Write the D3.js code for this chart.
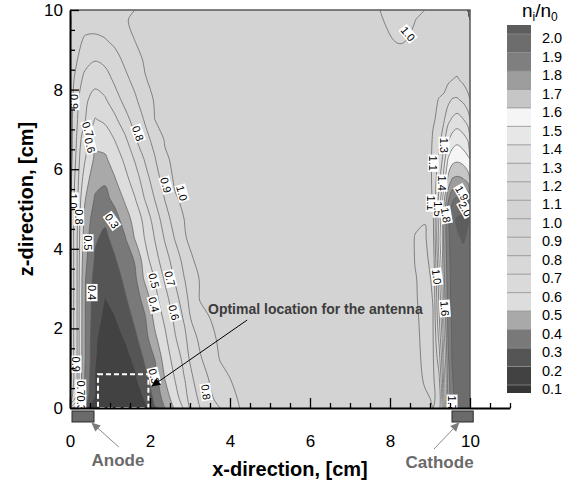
<!DOCTYPE html>
<html><head><meta charset="utf-8">
<script src="https://cdn.jsdelivr.net/npm/d3@7"></script>
<style>
html,body{margin:0;padding:0;background:#fff;}
svg{display:block;font-family:"Liberation Sans",Arial,Helvetica,sans-serif;}
</style></head>
<body>
<svg id="chart" width="565" height="481"></svg>
<script>
// ---- grid coordinates (cm) ----
const xGrid = [0,0.1,0.25,0.5,0.75,1.0,1.25,1.5,1.75,2.0,2.25,2.5,2.75,3.0,3.5,4.0,4.5,5.0,6.0,7.0,7.5,8.0,8.5,8.75,9.0,9.15,9.3,9.4,9.5,9.6,9.75,9.9,10];
const zGrid = [0,0.5,1,1.5,2,2.5,3,3.5,4,4.5,5,5.5,6,6.5,7,7.5,8,8.5,9,9.5,10];

// ---- ion density ratio n_i/n_0, one row per z level (bottom to top) ----
const row0_0 = [0.55,0.31,0.24,0.21,0.15,0.135,0.13,0.135,0.15,0.175,0.26,0.37,0.52,0.62,0.8,0.9,1.002,1.03, 1.04,1.04,1.04, 1.04,1.04,1.04,1.035,1.01,1.05,1.35,1.68,1.85,1.92,1.94,1.94];
const row0_5 = [0.98,0.8,0.66,0.36,0.18,0.145,0.135,0.14,0.165,0.205,0.33,0.44,0.56,0.66,0.82,0.94,1.01,1.03, 1.04,1.04,1.04, 1.04,1.04,1.035,1.01,0.99,1.02,1.4,1.72,1.87,1.93,1.95,1.95];
const row1_0 = [1.02,0.88,0.705,0.39,0.195,0.15,0.14,0.15,0.185,0.27,0.36,0.505,0.605,0.705,0.85,0.97,1.03,1.035, 1.04,1.04,1.04, 1.04,1.04,1.03,0.99,0.985,1.08,1.45,1.75,1.89,1.94,1.955,1.955];
const row1_5 = [1.03,0.87,0.705,0.405,0.205,0.155,0.15,0.17,0.22,0.32,0.405,0.55,0.64,0.74,0.89,1.005,1.03,1.04, 1.04,1.04,1.04, 1.04,1.04,1.02,0.985,0.99,1.15,1.505,1.78,1.905,1.945,1.96,1.96];
const row2_0 = [1.03,0.87,0.705,0.405,0.21,0.165,0.17,0.205,0.28,0.36,0.48,0.58,0.69,0.78,0.92,1.02,1.035,1.04, 1.04,1.04,1.04, 1.04,1.04,1.015,0.983,0.995,1.22,1.57,1.805,1.91,1.95,1.96,1.96];
const row2_5 = [1.03,0.87,0.705,0.405,0.23,0.18,0.195,0.25,0.32,0.39,0.53,0.62,0.725,0.82,0.97,1.03,1.035,1.04, 1.04,1.04,1.04, 1.04,1.04,1.01,0.983,0.998,1.28,1.63,1.82,1.92,1.955,1.965,1.96];
const row3_0 = [1.03,0.87,0.705,0.405,0.24,0.198,0.23,0.29,0.35,0.44,0.57,0.665,0.765,0.86,1.005,1.03,1.035,1.04, 1.04,1.04,1.04, 1.04,1.04,1.005,0.984,1.002,1.32,1.66,1.84,1.93,1.96,1.97,1.965];
const row3_5 = [1.03,0.87,0.705,0.41,0.26,0.225,0.26,0.32,0.38,0.52,0.605,0.715,0.81,0.905,1.005,1.03,1.035,1.04, 1.04,1.04,1.04, 1.04,1.04,1.003,0.985,1.01,1.36,1.68,1.85,1.935,1.965,1.975,1.97];
const row4_0 = [1.03,0.87,0.705,0.43,0.29,0.25,0.295,0.35,0.41,0.56,0.665,0.76,0.85,0.94,1.03,1.035,1.04,1.04, 1.04,1.04,1.04, 1.04,1.04,0.998,0.987,1.03,1.405,1.705,1.86,1.94,1.975,1.985,1.98];
const row4_5 = [1.03,0.86,0.71,0.45,0.31,0.28,0.33,0.39,0.505,0.605,0.705,0.81,0.905,0.995,1.025,1.035,1.04,1.04, 1.04,1.04,1.04, 1.04,1.04,0.997,0.992,1.06,1.45,1.73,1.87,1.95,1.99,2.005,1.99];
const row5_0 = [1.03,0.86,0.72,0.47,0.345,0.315,0.36,0.45,0.54,0.63,0.75,0.85,0.95,1.005,1.025,1.035,1.04,1.04, 1.04,1.04,1.04, 1.04,1.04,1.01,1.003,1.08,1.405,1.705,1.88,1.96,2.01,2.02,2.005];
const row5_5 = [1.03,0.87,0.73,0.505,0.39,0.37,0.43,0.515,0.595,0.705,0.805,0.905,0.99,1.02,1.03,1.035,1.04,1.04, 1.04,1.04,1.04, 1.04,1.04,1.04,1.04,1.11,1.33,1.58,1.78,1.88,1.92,1.92,1.905];
const row6_0 = [1.03,0.88,0.75,0.55,0.43,0.415,0.495,0.57,0.65,0.755,0.855,0.945,1.015,1.025,1.035,1.04,1.04,1.04, 1.04,1.04,1.04, 1.04,1.04,1.04,1.04,1.12,1.27,1.45,1.62,1.705,1.72,1.705,1.65];
const row6_5 = [1.03,0.905,0.77,0.605,0.48,0.485,0.545,0.62,0.71,0.81,0.895,0.985,1.02,1.03,1.035,1.04,1.04,1.04, 1.04,1.04,1.04, 1.04,1.04,1.04,1.04,1.12,1.22,1.36,1.505,1.56,1.58,1.56,1.52];
const row7_0 = [1.03,0.91,0.79,0.64,0.535,0.54,0.605,0.68,0.79,0.87,0.93,1.01,1.025,1.03,1.035,1.04,1.04,1.04, 1.04,1.04,1.04, 1.04,1.04,1.04,1.04,1.11,1.17,1.27,1.38,1.44,1.47,1.44,1.39];
const row7_5 = [1.03,0.91,0.81,0.705,0.595,0.62,0.68,0.765,0.84,0.91,1.002,1.015,1.025,1.03,1.035,1.04,1.04,1.04, 1.04,1.04,1.04, 1.04,1.04,1.04,1.04,1.09,1.12,1.19,1.27,1.31,1.34,1.305,1.25];
const row8_0 = [1.03,0.92,0.83,0.72,0.66,0.69,0.76,0.83,0.885,0.955,1.01,1.025,1.03,1.035,1.04,1.04,1.04,1.04, 1.04,1.04,1.04, 1.04,1.04,1.04,1.04,1.07,1.105,1.12,1.17,1.205,1.21,1.18,1.13];
const row8_5 = [1.03,0.94,0.86,0.775,0.735,0.755,0.82,0.875,0.93,0.995,1.02,1.03,1.035,1.04,1.04,1.04,1.04,1.04, 1.04,1.04,1.04, 1.04,1.04,1.04,1.04,1.045,1.05,1.06,1.08,1.098,1.11,1.08,1.04];
const row9_0 = [1.03,0.96,0.905,0.83,0.805,0.825,0.865,0.92,0.97,1.01,1.025,1.035,1.04,1.04,1.04,1.04,1.04,1.04, 1.04,1.04,1.04, 1.04,1.04,1.04,1.04,1.04,1.04,1.04,1.045,1.05,1.05,1.045,1.04];
const row9_5 = [1.03,0.98,0.93,0.89,0.885,0.895,0.925,0.96,1.002,1.02,1.03,1.04,1.04,1.04,1.04,1.04,1.04,1.04, 1.04,1.04,1.04, 1.02,0.99,1.02,1.04,1.04,1.04,1.04,1.04,1.04,1.04,1.04,1.04];
const row10_0 = [1.03,0.99,0.96,0.935,0.935,0.95,0.97,0.995,1.01,1.02,1.03,1.04,1.04,1.04,1.04,1.04,1.04,1.04, 1.04,1.04,1.04, 1.005,0.975,0.998,1.04,1.04,1.04,1.04,1.04,1.04,1.04,1.04,1.04];
const density = [row0_0,row0_5,row1_0,row1_5,row2_0,row2_5,row3_0,row3_5,row4_0,row4_5,row5_0,row5_5,row6_0,row6_5,row7_0,row7_5,row8_0,row8_5,row9_0,row9_5,row10_0];

// ---- contour levels and band shades (band 0 = below 0.1, last = above 2.0) ----
const levels = [0.1,0.2,0.3,0.4,0.5,0.6,0.7,0.8,0.9,1.0,1.1,1.2,1.3,1.4,1.5,1.6,1.7,1.8,1.9,2.0];
const bandColors = ["#363636","#424242","#555555","#797979","#a9a9a9","#dddddd","#dadada","#d8d8d8","#d6d6d6","#d5d5d5","#d3d3d3",
                    "#d6d6d6","#dadada","#dfdfdf","#e7e7e7","#f5f5f5","#c6c6c6","#9d9d9d","#7f7f7f","#6d6d6d","#5d5d5d"];

// ---- in-line contour labels: text, position (cm), angle (deg) ----
const labelText  = ["0.9","0.7","0.6","1.0","0.8","0.5","0.4","0.9","0.7","0.3","0.8","0.9","1.0","0.3","0.7","0.5","0.4","0.6","0.3","0.8","1.0","1.3","1.1","1.4","1.1","1.5","1.8","1.9","2.0","1.0","1.6","1.7"];
const labelX     = [0.1,0.45,0.5,0.08,0.22,0.45,0.55,0.15,0.27,0.27,1.7,2.4,2.8,1.05,2.5,2.1,2.1,2.6,2.1,3.4,8.45,9.35,9.08,9.3,9.03,9.2,9.4,9.8,9.88,9.17,9.37,9.55];
const labelZ     = [7.7,7.0,6.6,5.2,4.8,4.15,2.9,1.1,0.5,0.12,6.9,5.6,5.4,4.7,3.25,3.2,2.6,2.4,0.8,0.4,9.4,6.6,6.15,5.65,5.15,5.0,4.85,5.4,5.0,3.3,2.5,0.12];
const labelAngle = [90,72,76,90,90,90,90,90,90,90,70,74,74,55,76,76,76,76,76,82,50,90,90,90,90,90,80,60,60,82,86,90];

const xTicks = [0,2,4,6,8,10];
const zTicks = [0,2,4,6,8,10];

// ---- layout ----
const svg = d3.select("#chart");
const x = d3.scaleLinear().domain([0,10]).range([70,470]);
const y = d3.scaleLinear().domain([0,10]).range([408,10]);

const nx = xGrid.length, nz = zGrid.length;
density.forEach((r,i)=>{ if (r.length!==nx) throw new Error("row "+i+" has "+r.length+" values"); });
const flat = density.flat();

// grid-index -> data coordinate (piecewise linear over the non-uniform grid)
const ix = d3.scaleLinear().domain(d3.range(nx)).range(xGrid).clamp(true);
const iz = d3.scaleLinear().domain(d3.range(nz)).range(zGrid).clamp(true);

// where d3.contours places sample k (k or k+0.5 depending on version)
let off = 0.5;
d3.contours().size([2,1]).thresholds([0.5])([0,1]).forEach(c =>
  c.coordinates.forEach(poly => poly.forEach(ring => ring.forEach(p => {
    if (p[0] > 0 && p[0] < 2) off = p[0] - 0.5;
  }))));

const toPx = p => [x(ix(p[0]-off)), y(iz(p[1]-off))];
function dedupe(pts){
  const out=[];
  pts.forEach(p=>{ const q=out[out.length-1]; if(!q || Math.abs(q[0]-p[0])>0.01 || Math.abs(q[1]-p[1])>0.01) out.push(p); });
  return out;
}
function edgeFlags(p){
  const i=p[0]-off, j=p[1]-off, e=1e-6;
  return [i<=e, i>=nx-1-e, j<=e, j>=nz-1-e];
}
function onBorder(a,b){
  const fa=edgeFlags(a), fb=edgeFlags(b);
  return fa.some((f,k)=>f && fb[k]);
}
// split a ring into the parts that run through the interior
function splitRing(ring){
  const runs=[]; let cur=null;
  for(let i=0;i<ring.length-1;i++){
    if(onBorder(ring[i],ring[i+1])){ if(cur){runs.push(cur);cur=null;} }
    else { if(!cur) cur=[ring[i]]; cur.push(ring[i+1]); }
  }
  if(cur) runs.push(cur);
  if(runs.length===1 && runs[0].length===ring.length) return [{pts:ring.slice(0,-1),closed:true}];
  if(runs.length>1 && !onBorder(ring[0],ring[1]) && !onBorder(ring[ring.length-2],ring[ring.length-1])){
    const last=runs.pop(); runs[0]=last.concat(runs[0].slice(1));
  }
  return runs.map(r=>({pts:r,closed:false}));
}

const lineClosed = d3.line().curve(d3.curveCatmullRomClosed.alpha(0.5));
const lineOpen = d3.line().curve(d3.curveCatmullRom.alpha(0.5));

const defs = svg.append("defs");
defs.append("clipPath").attr("id","plotClip").append("rect")
  .attr("x",x(0)).attr("y",y(10)).attr("width",x(10)-x(0)).attr("height",y(0)-y(10));
function marker(id,color){
  defs.append("marker").attr("id",id).attr("viewBox","0 0 10 10").attr("refX",9).attr("refY",5)
    .attr("markerUnits","userSpaceOnUse").attr("markerWidth",11).attr("markerHeight",9).attr("orient","auto")
    .append("path").attr("d","M0,0.5L10,5L0,9.5Z").attr("fill",color);
}
marker("arrBlack","#000");
marker("arrGray","#7a7a7a");

const plot = svg.append("g").attr("clip-path","url(#plotClip)");
plot.append("rect").attr("x",x(0)).attr("y",y(10)).attr("width",x(10)-x(0)).attr("height",y(0)-y(10)).attr("fill",bandColors[0]);

const cs = d3.contours().size([nx,nz]).thresholds(levels)(flat);
const fillG = plot.append("g");
cs.forEach((c,k)=>{
  let d="";
  c.coordinates.forEach(poly=>poly.forEach(ring=>{
    const pts=dedupe(ring.slice(0,-1).map(toPx));
    if(pts.length>2) d+=lineClosed(pts);
  }));
  if(d) fillG.append("path").attr("d",d).attr("fill",bandColors[k+1]).attr("fill-rule","evenodd");
});

const lineG = plot.append("g").attr("fill","none").attr("stroke","#5a5a5a").attr("stroke-width",0.7);
cs.forEach(c=>{
  c.coordinates.forEach(poly=>poly.forEach(ring=>{
    splitRing(ring).forEach(run=>{
      const pts=dedupe(run.pts.map(toPx));
      if(pts.length<2) return;
      lineG.append("path").attr("d", run.closed ? lineClosed(pts) : lineOpen(pts));
    });
  }));
});

// contour value labels
const labG = plot.append("g").attr("font-size",11).attr("fill","#000");
labelText.forEach((t,i)=>{
  const g=labG.append("g").attr("transform",`translate(${x(labelX[i])},${y(labelZ[i])}) rotate(${labelAngle[i]})`);
  const tx=g.append("text").attr("text-anchor","middle").attr("dy","0.36em").text(t);
  const bb=tx.node().getBBox();
  g.insert("rect","text").attr("x",bb.x-1).attr("y",bb.y+0.5).attr("width",bb.width+2).attr("height",bb.height-1).attr("fill","#fff");
});

// antenna region and annotation
svg.append("rect").attr("x",x(0.7)).attr("y",y(0.85)).attr("width",x(1.96)-x(0.7)).attr("height",y(0)-y(0.85))
  .attr("fill","none").attr("stroke","#fff").attr("stroke-width",2).attr("stroke-dasharray","5,3");
svg.append("line").attr("x1",x(4.43)).attr("y1",y(2.21)).attr("x2",x(2.05)).attr("y2",y(0.55))
  .attr("stroke","#000").attr("stroke-width",1).attr("marker-end","url(#arrBlack)");
svg.append("text").attr("x",x(3.45)).attr("y",y(2.35)).attr("font-size",14).attr("font-weight","bold")
  .attr("fill","#3c3c3c").text("Optimal location for the antenna");

// frame (top / right)
svg.append("path").attr("d",`M${x(0)},${y(10)}H${x(10)}V${y(0)}`).attr("fill","none").attr("stroke","#5a5a5a").attr("stroke-width",1.5);

// electrodes below the x axis
const elecTop = y(0)+3, elecH = 11;
[[0.05,0.6],[9.55,10.08]].forEach(e=>{
  svg.append("rect").attr("x",x(e[0])).attr("y",elecTop).attr("width",x(e[1])-x(e[0])).attr("height",elecH)
    .attr("fill","#6a6a6a").attr("stroke","#2a2a2a").attr("stroke-width",1);
});

// axes
const xAxisScale = d3.scaleLinear().domain([0,11]).range([x(0),x(11)]);
const gx = svg.append("g").attr("transform",`translate(0,${y(0)})`);
gx.call(d3.axisBottom(xAxisScale).tickValues(xTicks).tickSize(-10).tickSizeOuter(0).tickPadding(27).tickFormat(d3.format("d")));
const gxm = svg.append("g").attr("transform",`translate(0,${y(0)})`);
gxm.call(d3.axisBottom(xAxisScale).tickValues(d3.range(0,11.01,0.5).filter(v=>v%2!==0)).tickSize(-5).tickFormat(""));
gxm.select(".domain").remove();

const gy = svg.append("g").attr("transform",`translate(${x(0)},0)`);
gy.call(d3.axisLeft(y).tickValues(zTicks).tickSize(-9).tickSizeOuter(0).tickPadding(7).tickFormat(d3.format("d")));
const gym = svg.append("g").attr("transform",`translate(${x(0)},0)`);
gym.call(d3.axisLeft(y).tickValues(d3.range(0,10.01,0.5).filter(v=>v%2!==0)).tickSize(-5).tickFormat(""));
gym.select(".domain").remove();

[gx,gy].forEach(g=>{
  g.select(".domain").attr("stroke","#000").attr("stroke-width",2);
  g.selectAll("text").attr("font-size",17).attr("font-family","Liberation Sans, Arial, sans-serif").attr("fill","#000");
});
[gx,gy,gxm,gym].forEach(g=>g.selectAll(".tick line").attr("stroke","#000").attr("stroke-width",1.3));

// axis titles
svg.append("text").attr("x",290).attr("y",476).attr("text-anchor","middle").attr("font-size",20).attr("font-weight","bold").text("x-direction, [cm]");
svg.append("text").attr("transform","translate(33,199) rotate(-90)").attr("text-anchor","middle").attr("font-size",20).attr("font-weight","bold").text("z-direction, [cm]");

// electrode callouts
svg.append("text").attr("x",x(1.2)).attr("y",466).attr("text-anchor","middle").attr("font-size",17).attr("font-weight","bold").attr("fill","#6a6a6a").text("Anode");
svg.append("text").attr("x",x(9.24)).attr("y",468).attr("text-anchor","middle").attr("font-size",17).attr("font-weight","bold").attr("fill","#6a6a6a").text("Cathode");
svg.append("line").attr("x1",x(1.22)).attr("y1",447).attr("x2",x(0.55)).attr("y2",elecTop+elecH+1)
  .attr("stroke","#8a8a8a").attr("stroke-width",1).attr("marker-end","url(#arrGray)");
svg.append("line").attr("x1",x(9.1)).attr("y1",449).attr("x2",x(9.72)).attr("y2",elecTop+elecH+1)
  .attr("stroke","#8a8a8a").attr("stroke-width",1).attr("marker-end","url(#arrGray)");

// ---- legend ----
const L = d3.scaleLinear().domain([2.0,0.1]).range([34,385]);
const lg = svg.append("g");
const swX = 507, swW = 24;
bandColors.forEach((col,b)=>{
  const top = b===bandColors.length-1 ? L(2.0)-9 : L(levels[b]);
  const bot = b===0 ? L(0.1)+8 : L(levels[b-1]);
  lg.append("rect").attr("x",swX).attr("y",top).attr("width",swW).attr("height",bot-top).attr("fill",col);
});
levels.forEach(v=>{
  lg.append("line").attr("x1",swX).attr("x2",swX+swW).attr("y1",L(v)).attr("y2",L(v)).attr("stroke","#8c8c8c").attr("stroke-width",0.8);
  lg.append("text").attr("x",542).attr("y",L(v)+4).attr("dy","0.36em").attr("font-size",14.5).text(d3.format(".1f")(v));
});
const lt = lg.append("text").attr("x",522).attr("y",17).attr("font-size",19);
lt.append("tspan").text("n");
lt.append("tspan").attr("font-size",12).attr("dy",4).text("i");
lt.append("tspan").attr("dy",-4).text("/n");
lt.append("tspan").attr("font-size",12).attr("dy",4).text("0");
</script>
</body></html>
